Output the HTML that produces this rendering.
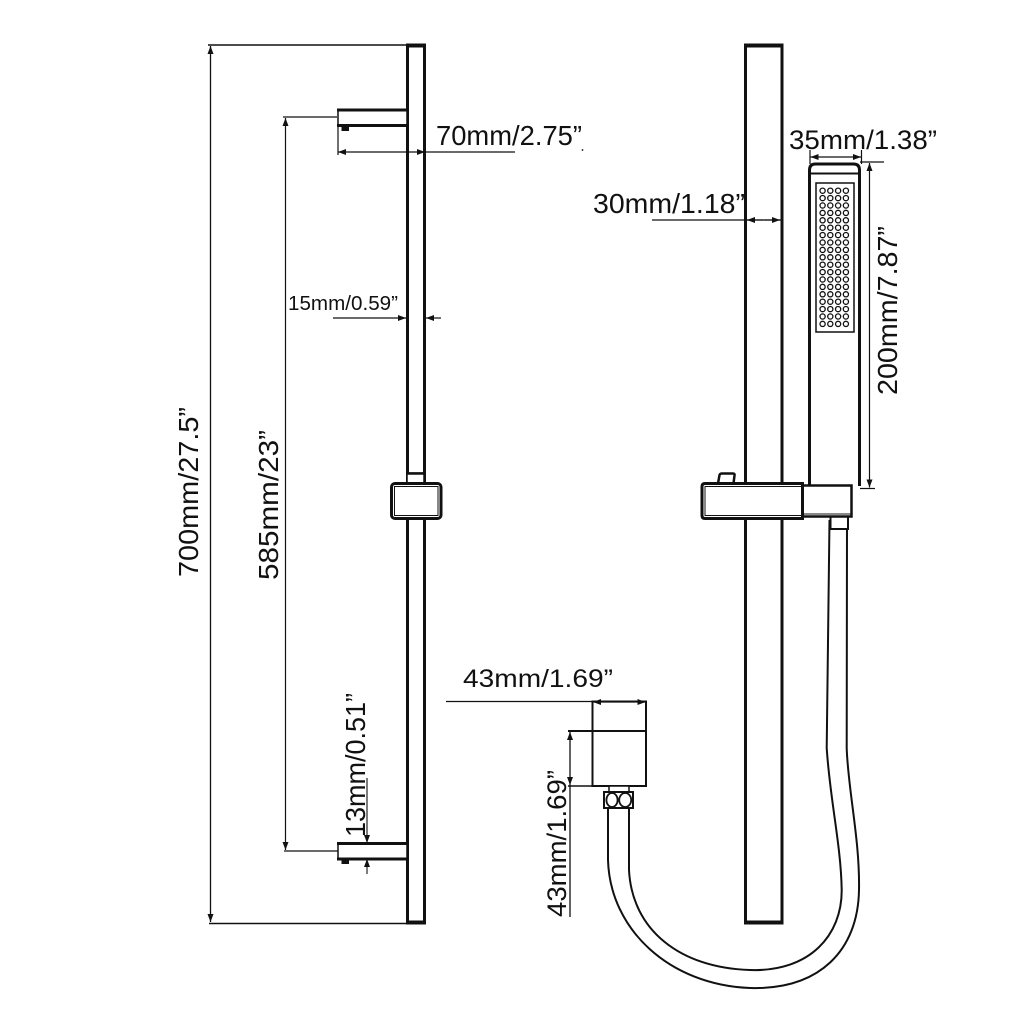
<!DOCTYPE html>
<html>
<head>
<meta charset="utf-8">
<style>
html,body{margin:0;padding:0;background:#fff;}
svg{display:block;}
text{font-family:"Liberation Sans","DejaVu Sans",sans-serif;fill:#111;}
</style>
</head>
<body>
<svg width="1024" height="1024" viewBox="0 0 1024 1024" xmlns="http://www.w3.org/2000/svg">
<defs>
<marker id="a" viewBox="0 0 8 6" refX="8" refY="3" markerWidth="8" markerHeight="6" markerUnits="userSpaceOnUse" orient="auto-start-reverse">
<path d="M0,0 L8,3 L0,6 z" fill="#111"/>
</marker>
</defs>
<rect width="1024" height="1024" fill="#fff"/>

<!-- ============ LEFT VIEW ============ -->
<!-- 700 dimension -->
<line x1="208" y1="45" x2="407" y2="45" stroke="#111" stroke-width="1.5"/>
<line x1="209" y1="923.5" x2="407" y2="923.5" stroke="#111" stroke-width="1.5"/>
<line x1="210.5" y1="46" x2="210.5" y2="922" stroke="#111" stroke-width="1.3" marker-start="url(#a)" marker-end="url(#a)"/>
<text transform="translate(198,577) rotate(-90)" font-size="27.5" textLength="170" lengthAdjust="spacingAndGlyphs">700mm/27.5”</text>

<!-- 585 dimension -->
<line x1="283" y1="117" x2="337" y2="117" stroke="#111" stroke-width="1.2"/>
<line x1="284" y1="851" x2="338" y2="851" stroke="#111" stroke-width="1.2"/>
<line x1="285.5" y1="118" x2="285.5" y2="850" stroke="#111" stroke-width="1.2" marker-start="url(#a)" marker-end="url(#a)"/>
<text transform="translate(278,580) rotate(-90)" font-size="27.5" textLength="150" lengthAdjust="spacingAndGlyphs">585mm/23”</text>

<!-- left rail -->
<rect x="407.5" y="46" width="17" height="876.5" fill="#fff" stroke="#111" stroke-width="3"/>
<line x1="406" y1="45.5" x2="426" y2="45.5" stroke="#111" stroke-width="4"/>
<line x1="406" y1="922.5" x2="426" y2="922.5" stroke="#111" stroke-width="4"/>

<!-- top bracket -->
<rect x="338" y="110" width="69" height="15.5" fill="#fff" stroke="#111" stroke-width="1.5"/>
<line x1="337" y1="110" x2="407" y2="110" stroke="#111" stroke-width="3"/>
<line x1="337" y1="125.5" x2="407" y2="125.5" stroke="#111" stroke-width="3"/>
<rect x="341.5" y="126" width="7.5" height="5" fill="#111"/>

<!-- bottom bracket -->
<rect x="338" y="843.5" width="69" height="15.5" fill="#fff" stroke="#111" stroke-width="1.5"/>
<line x1="337" y1="843.5" x2="407" y2="843.5" stroke="#111" stroke-width="3"/>
<line x1="337" y1="859" x2="407" y2="859" stroke="#111" stroke-width="3"/>
<rect x="341.5" y="859.5" width="7.5" height="4.5" fill="#111"/>

<!-- 70 dimension -->
<line x1="338" y1="126" x2="338" y2="155" stroke="#111" stroke-width="1.2"/>
<line x1="338" y1="152" x2="425" y2="152" stroke="#111" stroke-width="1.2" marker-start="url(#a)" marker-end="url(#a)"/>
<line x1="425" y1="152" x2="515" y2="152" stroke="#111" stroke-width="1.2"/>
<text x="436" y="145" font-size="27.5" textLength="146" lengthAdjust="spacingAndGlyphs">70mm/2.75”</text>
<circle cx="582.5" cy="150" r="0.9" fill="#111"/>

<!-- 15 dimension -->
<text x="288" y="310" font-size="20.5" textLength="110" lengthAdjust="spacingAndGlyphs">15mm/0.59”</text>
<line x1="333" y1="318" x2="406" y2="318" stroke="#111" stroke-width="1.2" marker-end="url(#a)"/>
<line x1="441" y1="318" x2="426" y2="318" stroke="#111" stroke-width="1.2" marker-end="url(#a)"/>

<!-- 13 dimension -->
<line x1="367" y1="778" x2="367" y2="843" stroke="#111" stroke-width="1.1" marker-end="url(#a)"/>
<line x1="367" y1="874" x2="367" y2="859" stroke="#111" stroke-width="1.1" marker-end="url(#a)"/>
<text transform="translate(365,837) rotate(-90)" font-size="27.5" textLength="144" lengthAdjust="spacingAndGlyphs">13mm/0.51”</text>

<!-- left slider -->
<rect x="407" y="473" width="17" height="10" fill="#fff" stroke="#111" stroke-width="1.5"/>
<line x1="407" y1="473.5" x2="425" y2="473.5" stroke="#111" stroke-width="2.5"/>
<rect x="391.5" y="483.5" width="49.5" height="35" rx="3.5" fill="#fff" stroke="#111" stroke-width="3"/>
<rect x="394.5" y="486.5" width="43.5" height="29" fill="none" stroke="#111" stroke-width="1"/>

<!-- ============ RIGHT VIEW ============ -->
<!-- right rail -->
<rect x="745.5" y="46" width="36.5" height="876.5" fill="#fff" stroke="#111" stroke-width="3"/>
<line x1="744" y1="45.5" x2="783.5" y2="45.5" stroke="#111" stroke-width="4"/>
<line x1="744" y1="922.5" x2="783.5" y2="922.5" stroke="#111" stroke-width="4"/>

<!-- 30 dimension -->
<text x="593" y="213" font-size="27.5" textLength="152" lengthAdjust="spacingAndGlyphs">30mm/1.18”</text>
<line x1="652" y1="220" x2="783" y2="220" stroke="#111" stroke-width="1.2"/>
<line x1="763" y1="220" x2="747" y2="220" stroke="#111" stroke-width="1.2" marker-end="url(#a)"/>
<line x1="764" y1="220" x2="780" y2="220" stroke="#111" stroke-width="1.2" marker-end="url(#a)"/>

<!-- 35 dimension -->
<text x="789" y="149" font-size="26.5" textLength="148" lengthAdjust="spacingAndGlyphs">35mm/1.38”</text>
<line x1="810" y1="150" x2="810" y2="164" stroke="#111" stroke-width="1.2"/>
<line x1="861.5" y1="150" x2="861.5" y2="164" stroke="#111" stroke-width="1.2"/>
<line x1="810.5" y1="157" x2="861" y2="157" stroke="#111" stroke-width="1.2" marker-start="url(#a)" marker-end="url(#a)"/>

<!-- handheld -->
<path d="M809.5,486 L809.5,170 Q809.5,164 815.5,164 L853.5,164 Q859.5,164 859.5,170 L859.5,486" fill="#fff" stroke="#111" stroke-width="3"/>
<line x1="809.5" y1="173.5" x2="859.5" y2="173.5" stroke="#111" stroke-width="2"/>
<rect x="816" y="183" width="38" height="149" fill="none" stroke="#111" stroke-width="1.5"/>
<g fill="none" stroke="#111" stroke-width="1.3">
<g id="row">
<circle cx="822.6" cy="190.7" r="2.6"/><circle cx="830.3" cy="190.7" r="2.6"/><circle cx="838.1" cy="190.7" r="2.6"/><circle cx="845.9" cy="190.7" r="2.6"/>
</g>
<use href="#row" y="7.4"/><use href="#row" y="14.8"/><use href="#row" y="22.2"/><use href="#row" y="29.6"/>
<use href="#row" y="37"/><use href="#row" y="44.4"/><use href="#row" y="51.8"/><use href="#row" y="59.2"/>
<use href="#row" y="66.6"/><use href="#row" y="74"/><use href="#row" y="81.4"/><use href="#row" y="88.8"/>
<use href="#row" y="96.2"/><use href="#row" y="103.6"/><use href="#row" y="111"/><use href="#row" y="118.4"/>
<use href="#row" y="125.8"/><use href="#row" y="133.2"/>
</g>

<!-- 200 dimension -->
<line x1="860" y1="162" x2="884" y2="162" stroke="#111" stroke-width="1.2"/>
<line x1="860" y1="488.5" x2="875" y2="488.5" stroke="#111" stroke-width="1.2"/>
<line x1="869.5" y1="163" x2="869.5" y2="487.5" stroke="#111" stroke-width="1.2" marker-start="url(#a)" marker-end="url(#a)"/>
<text transform="translate(897,395) rotate(-90)" font-size="27.5" textLength="169" lengthAdjust="spacingAndGlyphs">200mm/7.87”</text>

<!-- hose -->
<path d="M608,808 L608,860 C610,930 670,985 750,988 C820,990 858,950 859,890 C860,840 848,790 846.7,748 L847,520" fill="none" stroke="#111" stroke-width="2"/>
<path d="M629,808 L629,870 C632,930 680,968 750,970 C810,972 842,935 841.7,890 C841,845 830,800 826.7,748 L829.5,520" fill="none" stroke="#111" stroke-width="2"/>
<!-- hose connector at holder -->
<rect x="830.5" y="516" width="17.5" height="13" fill="#fff" stroke="#111" stroke-width="2"/>

<!-- right slider -->
<path d="M718,483.5 L719.5,475 Q720,473.5 722,473.5 L733,473.5 Q735,473.5 734.5,475.5 L733.5,483.5" fill="#fff" stroke="#111" stroke-width="2.5"/>
<rect x="801" y="485.5" width="50.5" height="31" fill="#fff" stroke="#111" stroke-width="2.5"/>
<line x1="801" y1="514" x2="851" y2="514" stroke="#111" stroke-width="1"/>
<path d="M802.5,483.5 L705,483.5 Q702,483.5 702,486.5 L702,515.5 Q702,518.5 705,518.5 L802.5,518.5 Z" fill="#fff" stroke="#111" stroke-width="3"/>
<line x1="704.5" y1="486.5" x2="802" y2="486.5" stroke="#111" stroke-width="1"/>
<line x1="704.5" y1="515.5" x2="802" y2="515.5" stroke="#111" stroke-width="1"/>
<line x1="705" y1="486.5" x2="705" y2="515.5" stroke="#111" stroke-width="1"/>

<!-- wall connector -->
<rect x="592.5" y="701.5" width="53.5" height="84.5" fill="#fff" stroke="#111" stroke-width="2"/>
<line x1="568" y1="731" x2="646" y2="731" stroke="#111" stroke-width="2"/>
<line x1="568" y1="786" x2="592" y2="786" stroke="#111" stroke-width="1.5"/>
<rect x="609" y="786" width="20" height="6" fill="#fff" stroke="#111" stroke-width="1.5"/>
<rect x="604" y="792" width="29" height="16" fill="#fff" stroke="#111" stroke-width="2"/>
<ellipse cx="612" cy="800" rx="5.6" ry="7" fill="#fff" stroke="#111" stroke-width="1.8"/>
<ellipse cx="625.2" cy="800" rx="6" ry="7" fill="#fff" stroke="#111" stroke-width="1.8"/>

<!-- 43 horizontal dimension -->
<text x="463" y="687" font-size="25" textLength="150" lengthAdjust="spacingAndGlyphs">43mm/1.69”</text>
<line x1="446" y1="701.5" x2="592" y2="701.5" stroke="#111" stroke-width="1.3"/>
<line x1="593" y1="702" x2="645.5" y2="702" stroke="#111" stroke-width="1.3" marker-start="url(#a)" marker-end="url(#a)"/>

<!-- 43 vertical dimension -->
<line x1="570" y1="732" x2="570" y2="785" stroke="#111" stroke-width="1.3" marker-start="url(#a)" marker-end="url(#a)"/>
<line x1="570" y1="785" x2="570" y2="917" stroke="#111" stroke-width="1.3"/>
<text transform="translate(566,917) rotate(-90)" font-size="27" textLength="147" lengthAdjust="spacingAndGlyphs">43mm/1.69”</text>
</svg>
</body>
</html>
